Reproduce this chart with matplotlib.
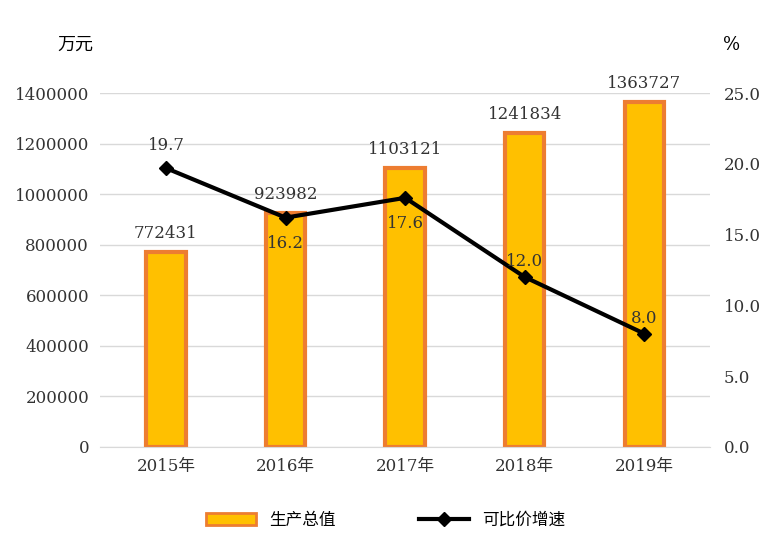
import matplotlib
matplotlib.use("Agg")
import matplotlib.pyplot as plt
from matplotlib.lines import Line2D
from matplotlib.patches import Patch

years = ["2015年", "2016年", "2017年", "2018年", "2019年"]
output = [772431, 923982, 1103121, 1241834, 1363727]
growth = [19.7, 16.2, 17.6, 12.0, 8.0]

plt.rcParams['font.family'] = ['DejaVu Serif', 'Noto Sans CJK SC']
fig = plt.figure(figsize=(7.71, 5.51), dpi=100)
ax = fig.add_axes([0.13, 0.189, 0.791, 0.642])
x = list(range(len(years)))
ax.bar(x, output, width=0.33, color="#FFC000", edgecolor="#ED7D31", linewidth=3, zorder=2)
for xi, v in zip(x, output):
    ax.text(xi, v + 40000, str(v), ha="center", va="bottom", fontsize=12, color="#333333")
ax.set_ylim(0, 1400000)
ax.set_xlim(-0.55, 4.55)
yt = list(range(0, 1400001, 200000))
ax.set_yticks(yt)
ax.set_yticklabels([str(v) for v in yt])
ax.grid(axis="y", color="#d9d9d9", linewidth=1, zorder=0)
ax.set_xticks(x)
ax.set_xticklabels(years, family=['DejaVu Serif', 'Noto Sans CJK SC'])
ax.tick_params(length=0, labelsize=12, colors="#333333")
ax.tick_params(axis='x', pad=8)
ax.tick_params(axis='y', pad=8)
for s in ax.spines.values():
    s.set_visible(False)
ax.spines['bottom'].set_visible(True)
ax.spines['bottom'].set_color("#d9d9d9")

ax2 = ax.twinx()
ax2.plot(x, growth, color="black", linewidth=3, marker="D", markersize=7, zorder=3)
offs = [(0, 1.0, 'bottom'), (0, -1.2, 'top'), (0, -1.2, 'top'), (0, 0.5, 'bottom'), (0, 0.5, 'bottom')]
for xi, g, o in zip(x, growth, offs):
    ax2.text(xi, g + o[1], f"{g:.1f}", ha="center", va=o[2], fontsize=12, color="#333333")
ax2.set_ylim(0, 25)
ax2.set_yticks([0, 5, 10, 15, 20, 25])
ax2.set_yticklabels([f"{v:.1f}" for v in [0, 5, 10, 15, 20, 25]])
ax2.tick_params(length=0, labelsize=12, colors="#333333", pad=10)
for s in ax2.spines.values():
    s.set_visible(False)

fig.text(75/771, 1-45/551, "万元", fontsize=13, family='Noto Sans CJK SC', ha="center", va="center")
fig.text(732/771, 1-45/551, "%", fontsize=13, ha="center", va="center")

handles = [Patch(facecolor="#FFC000", edgecolor="#ED7D31", linewidth=2),
           Line2D([0], [0], color="black", linewidth=3, marker="D", markersize=7)]
fig.legend(handles, ["生产总值", "可比价增速"], loc="center", bbox_to_anchor=(0.5, 1-520/551),
           ncol=2, frameon=False, prop={'family': 'Noto Sans CJK SC', 'size': 12},
           columnspacing=5, handlelength=3)
fig.savefig("out.png", dpi=100)
